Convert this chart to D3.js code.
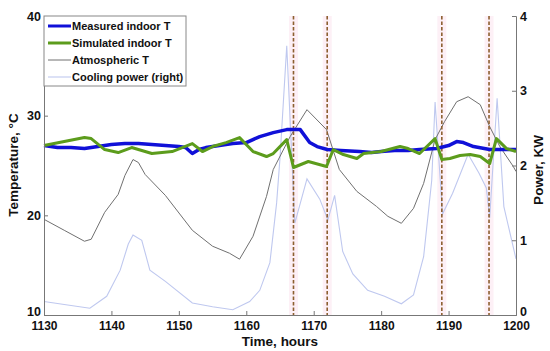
<!DOCTYPE html>
<html><head><meta charset="utf-8">
<script src="https://cdn.jsdelivr.net/npm/d3@7"></script>
<style>
body{margin:0;background:#fff;}
text{font-family:"Liberation Sans",Arial,sans-serif;font-weight:bold;fill:#111;}
</style></head>
<body><svg id="c" width="550" height="351"></svg>
<script>
const xTicks=[1130,1140,1150,1160,1170,1180,1190,1200];
const yTicks=[10,20,30,40];
const y2Ticks=[0,1,2,3,4];
const eventTimes=[1167,1172,1189,1196];

const measuredTime=[1130,1132,1134,1136,1138,1140,1142,1144,1146,1148,1150,1151,1152,1153,1154,1156,1158,1160,1162,1164,1166,1168,1169.4,1170.5,1172,1174,1176.8,1178.6,1180,1182,1184,1185.7,1188.2,1190,1191.2,1192.2,1193.7,1196.1,1198,1200];
const measuredT=[27.0,26.8,26.8,26.7,26.9,27.1,27.2,27.2,27.1,27.0,26.9,26.8,26.2,26.6,26.8,27.0,27.2,27.3,27.9,28.3,28.6,28.6,27.3,26.9,26.6,26.5,26.4,26.3,26.4,26.5,26.5,26.6,26.7,27.0,27.4,27.3,26.9,26.6,26.6,26.6];

const simTime=[1130,1133,1136,1137,1139,1141,1143,1146,1149,1152,1153.5,1155,1157,1159,1161,1163,1164,1166,1167,1169.2,1171.9,1172.9,1174.4,1176.4,1177.4,1180,1182.8,1184,1185.7,1188,1189,1190.2,1191.7,1193.2,1194.7,1196.1,1197.1,1198.6,1200];
const simT=[27.0,27.4,27.8,27.7,26.6,26.3,26.8,26.2,26.4,27.2,26.4,26.9,27.3,27.8,26.4,25.9,26.2,27.6,24.8,25.4,24.9,26.6,26.1,25.7,26.2,26.4,26.9,26.7,26.2,27.7,25.6,25.7,26.0,26.1,25.9,25.2,27.7,26.7,26.4];

const atmTime=[1130,1133,1136,1137,1139,1141,1142,1143.2,1144,1145,1148,1152,1155,1157.5,1159,1161,1163,1164,1166.5,1169,1171.9,1173.8,1176.4,1179.3,1181,1183,1184.8,1186.3,1188,1189.4,1191.2,1192.9,1194.7,1196.1,1197.6,1199.6,1200];
const atmT=[19.6,18.5,17.4,17.6,20.3,22.1,24.0,25.6,25.3,24.1,22.0,18.5,16.9,16.2,15.6,17.9,21.9,24.6,27.9,30.6,28.6,24.6,22.4,20.9,19.9,19.2,20.7,23.2,27.6,29.4,31.4,31.9,31.1,28.9,26.9,24.9,24.4];

const powTime=[1130,1133,1136.8,1139.3,1141.3,1142.5,1143.2,1144.5,1145.7,1148,1152,1155,1158,1160.5,1162,1163.5,1164.5,1165,1166,1167.2,1169,1170.9,1172.1,1173.1,1174.3,1175.8,1178,1180.5,1183,1184.8,1186.3,1187.5,1188,1189.1,1190.6,1192.9,1194.5,1195.6,1196.1,1197.2,1198.2,1200];
const powKW=[0.18,0.14,0.09,0.25,0.6,0.95,1.07,1.0,0.6,0.45,0.16,0.11,0.07,0.18,0.33,0.7,1.5,2.1,3.6,1.23,1.82,1.55,1.27,1.6,0.85,0.55,0.33,0.25,0.15,0.27,0.78,1.8,2.85,1.35,1.63,2.15,1.9,1.7,1.3,2.9,1.45,0.75];

const legendItems=["Measured indoor T","Simulated indoor T","Atmospheric T","Cooling power (right)"];

const svg=d3.select("#c");
const L=44,R=516,T=16,B=315;
const x=d3.scaleLinear().domain([1130,1200]).range([L,R]);
const y=d3.scaleLinear().domain([10,40]).range([B,T]);
const y2=d3.scaleLinear().domain([0,4]).range([B,T]);

svg.selectAll("rect.band").data(eventTimes).enter().append("rect")
 .attr("x",d=>x(d)-4.5).attr("y",T).attr("width",9).attr("height",B-T)
 .attr("fill","#fdf0f6");

const line=(ys)=>d3.line().x(d=>x(d[0])).y(d=>ys(d[1]));
const pair=(a,b)=>a.map((t,i)=>[t,b[i]]);

svg.append("path").datum(pair(powTime,powKW)).attr("d",line(y2))
 .attr("fill","none").attr("stroke","#bfc8ef").attr("stroke-width",1.1);
svg.append("path").datum(pair(atmTime,atmT)).attr("d",line(y))
 .attr("fill","none").attr("stroke","#707070").attr("stroke-width",1);

svg.selectAll("line.ev").data(eventTimes).enter().append("line")
 .attr("x1",d=>x(d)).attr("x2",d=>x(d)).attr("y1",T).attr("y2",B)
 .attr("stroke","#8d5f30").attr("stroke-width",1.6).attr("stroke-dasharray","3.5,2");

svg.append("path").datum(pair(measuredTime,measuredT)).attr("d",line(y))
 .attr("fill","none").attr("stroke","#1010d8").attr("stroke-width",3.5).attr("stroke-linejoin","round");
svg.append("path").datum(pair(simTime,simT)).attr("d",line(y))
 .attr("fill","none").attr("stroke","#5c9c1c").attr("stroke-width",3).attr("stroke-linejoin","round");

const ax=svg.append("g").attr("transform",`translate(0,${B})`)
 .call(d3.axisTop(x).tickValues(xTicks).tickSize(4).tickFormat(d3.format("d")));
ax.selectAll("text").attr("y",6).attr("dy","0.71em").attr("font-size",12);
const ay=svg.append("g").attr("transform",`translate(${L},0)`)
 .call(d3.axisRight(y).tickValues(yTicks).tickSize(4).tickFormat(d3.format("d")));
ay.selectAll("text").attr("x",-3).attr("text-anchor","end").attr("font-size",12.5)
 .attr("y",d=>d===10?-4:0);
const ay2=svg.append("g").attr("transform",`translate(${R},0)`)
 .call(d3.axisLeft(y2).tickValues(y2Ticks).tickSize(4).tickFormat(d3.format("d")));
ay2.selectAll("text").attr("x",4).attr("text-anchor","start").attr("font-size",12.5)
 .attr("y",d=>d===0?-4:0);
[ax,ay,ay2].forEach(g=>{g.select(".domain").attr("stroke","#777");g.selectAll(".tick line").attr("stroke","#777");g.selectAll("text").attr("fill","#111").attr("font-family",null);});

svg.append("text").attr("x",280).attr("y",346).attr("text-anchor","middle").attr("font-size",13.5).text("Time, hours");
svg.append("text").attr("transform","translate(18,165) rotate(-90)").attr("text-anchor","middle").attr("font-size",13.5).text("Temperature, °C");
svg.append("text").attr("transform","translate(543,170) rotate(-90)").attr("text-anchor","middle").attr("font-size",13.5).text("Power, KW");

const lg=svg.append("g");
lg.append("rect").attr("x",L).attr("y",T).attr("width",142).attr("height",70).attr("fill","#fff").attr("stroke","#888");
const styles=[["#1010d8",3],["#5c9c1c",3],["#707070",1],["#bfc8ef",1.1]];
legendItems.forEach((s,i)=>{
 const yy=26+i*17;
 lg.append("line").attr("x1",48).attr("x2",71).attr("y1",yy).attr("y2",yy).attr("stroke",styles[i][0]).attr("stroke-width",styles[i][1]);
 lg.append("text").attr("x",72).attr("y",yy).attr("dy","0.35em").attr("font-size",11).text(s);
});
</script></body></html>
